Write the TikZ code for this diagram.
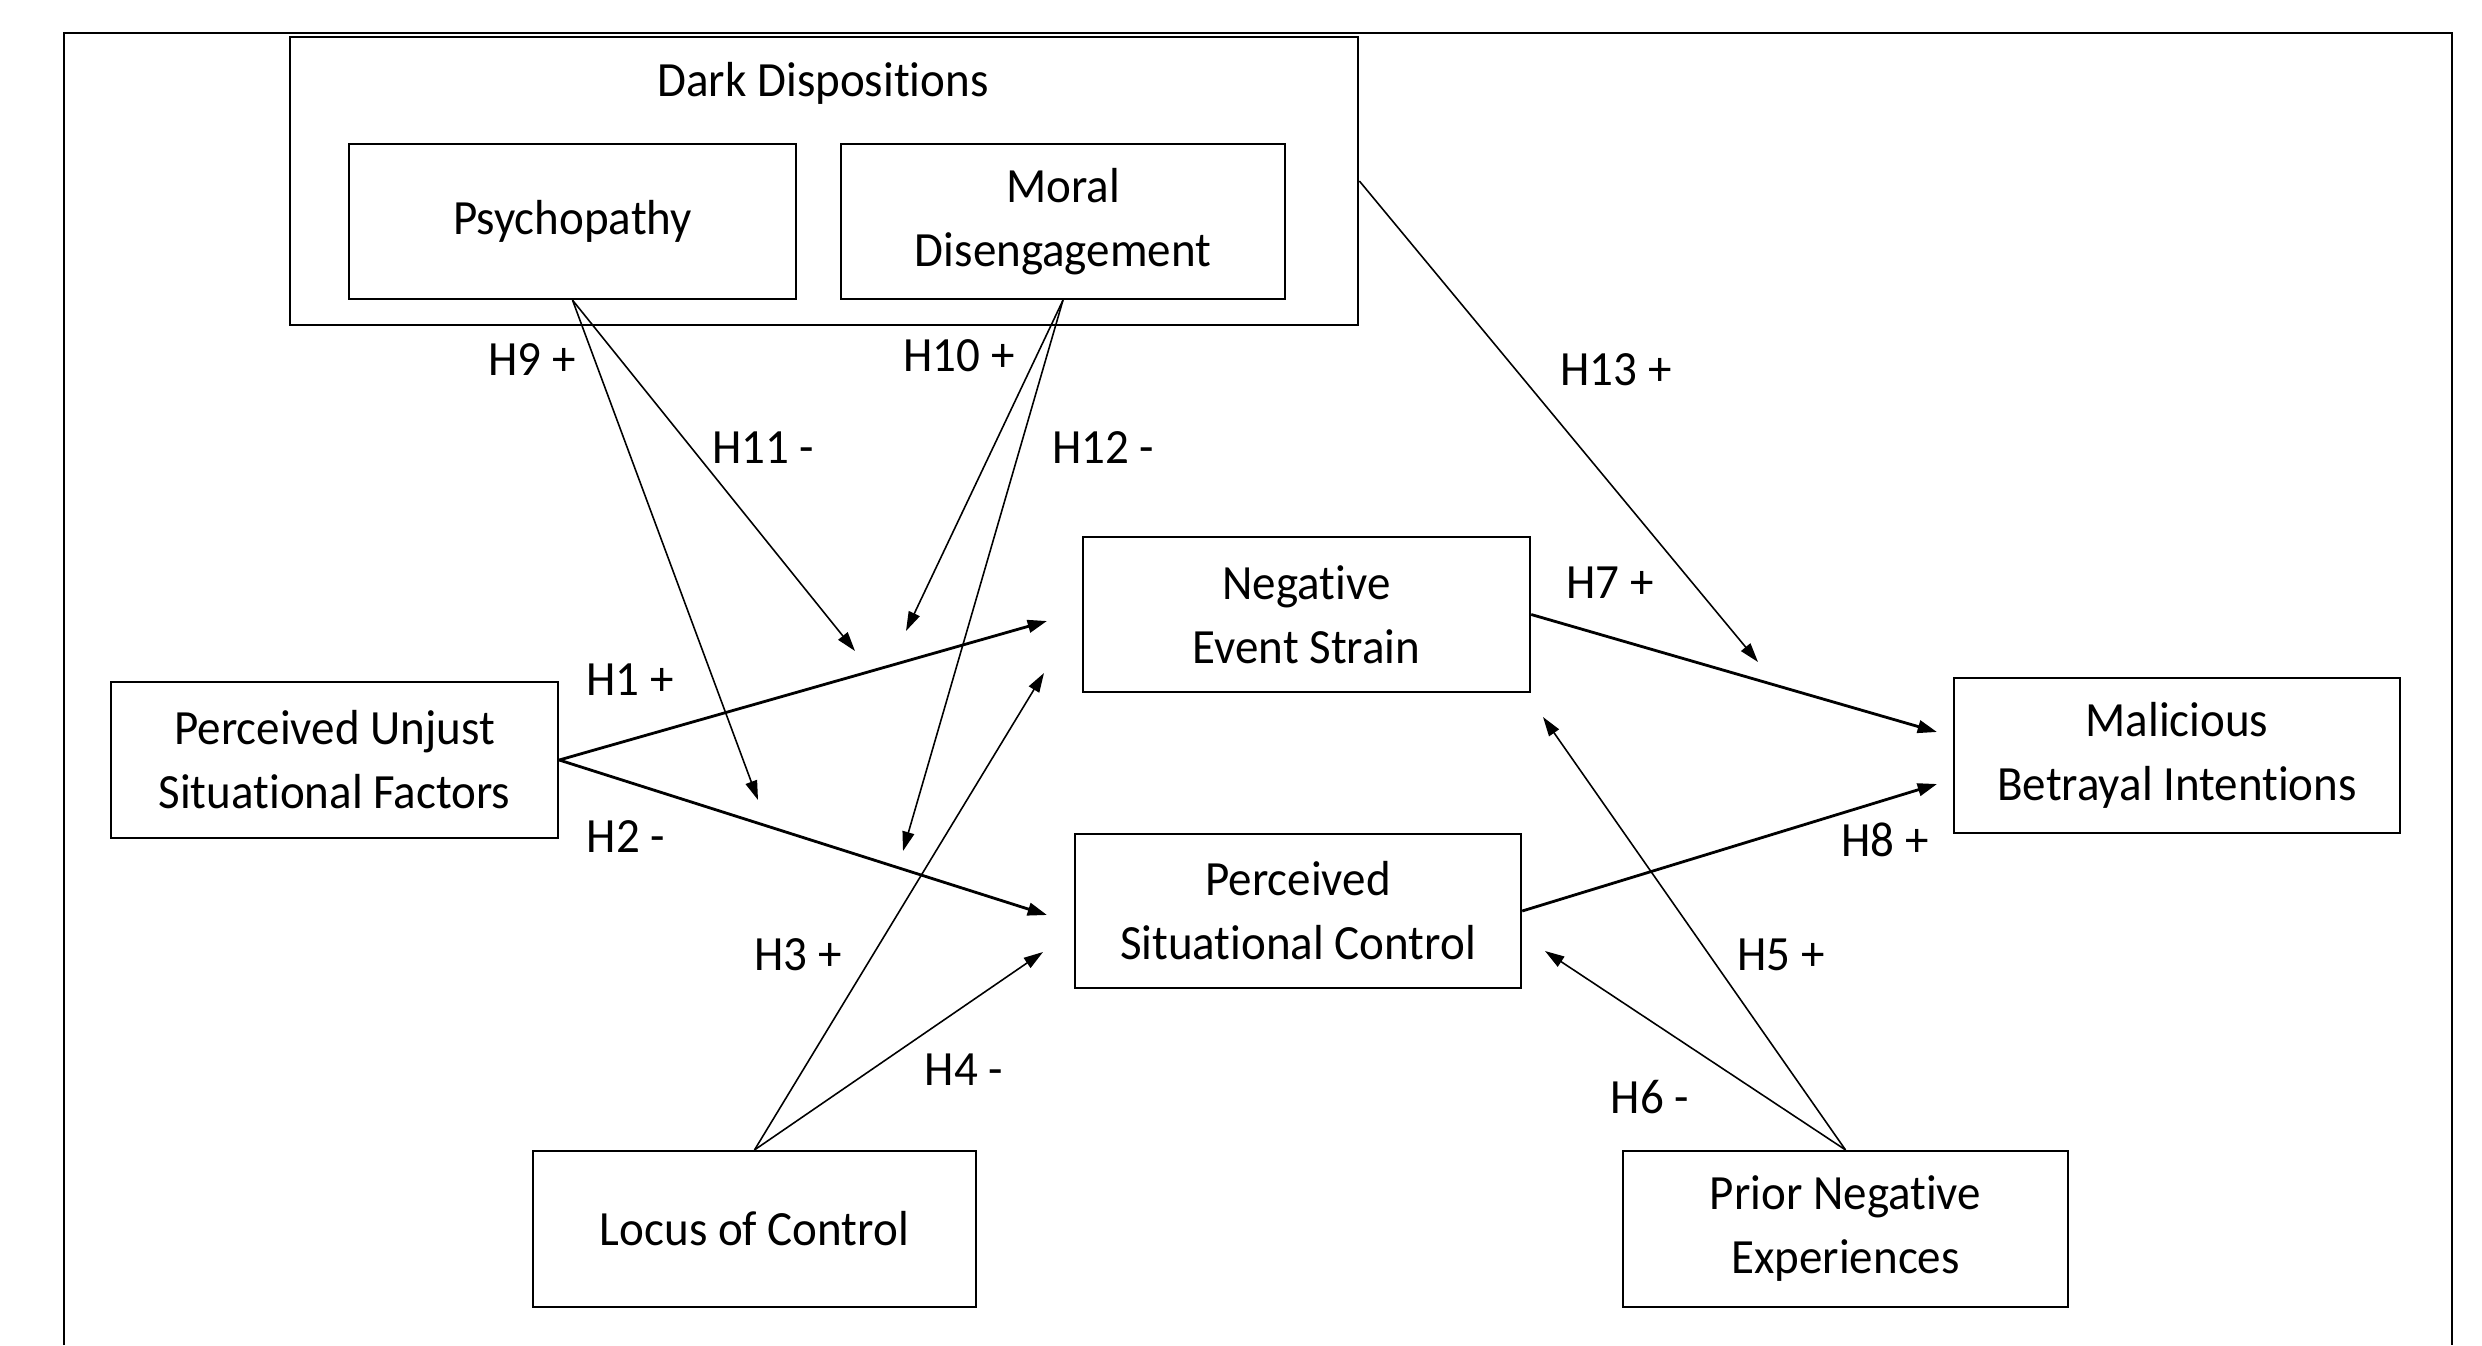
\documentclass[tikz,border=0pt]{standalone}
\usepackage{fontspec}
\setmainfont[Ligatures=NoCommon, FakeStretch=0.955]{Carlito}
\usetikzlibrary{arrows.meta}
\begin{document}
\begin{tikzpicture}[x=0.01cm, y=-0.01cm,
  every node/.style={font=\fontsize{14}{18.2}\selectfont},
  box/.style={draw, line width=0.6pt, align=center, inner sep=0pt},
  hyp/.style={inner sep=0pt},
  link/.style={line width=0.45pt, -{Triangle[length=5.5pt, width=3.4pt]}},
  mainlink/.style={line width=0.8pt, -{Triangle[length=5.5pt, width=3.6pt]}}]
\useasboundingbox (0,0) rectangle (2482,1345);

% surrounding frame (open at the bottom)
\draw[line width=0.75pt] (64,1345) -- (64,33) -- (2452,33) -- (2452,1345);

% dark dispositions group
\node[box, minimum width=10.68cm, minimum height=2.88cm] (dd) at (824,181) {};
\node[hyp] (ddtitle) at (823,83) {Dark Dispositions};
\node[box, minimum width=4.47cm, minimum height=1.55cm] (psy) at (572.5,221.5) {Psychopathy};
\node[box, minimum width=4.44cm, minimum height=1.55cm] (md) at (1063,221.5) {Moral\\Disengagement};

% constructs
\node[box, minimum width=4.47cm, minimum height=1.56cm] (pusf) at (334.5,760) {Perceived Unjust\\Situational Factors};
\node[box, minimum width=4.47cm, minimum height=1.55cm] (nes) at (1306.5,614.5) {Negative\\Event Strain};
\node[box, minimum width=4.46cm, minimum height=1.54cm] (psc) at (1298,911) {Perceived\\Situational Control};
\node[box, minimum width=4.46cm, minimum height=1.55cm] (mbi) at (2177,755.5) {Malicious\\Betrayal Intentions};
\node[box, minimum width=4.43cm, minimum height=1.56cm] (loc) at (754.5,1229) {Locus of Control};
\node[box, minimum width=4.45cm, minimum height=1.56cm] (pne) at (1845.5,1229) {Prior Negative\\Experiences};

% arrow ends
\coordinate (t1) at (1047,621);
\coordinate (t2) at (1047,915);
\coordinate (t3) at (1044,673);
\coordinate (t4) at (1043,952);
\coordinate (t5) at (1543,717);
\coordinate (t6) at (1545,951);
\coordinate (t7) at (1937,732);
\coordinate (t8) at (1937,784);
\coordinate (t9) at (758,800);
\coordinate (t10) at (906,631);
\coordinate (t11) at (855,651);
\coordinate (t12) at (903,851);
\coordinate (t13) at (1758,662);

% paths
\draw[mainlink] (pusf.east) -- (t1);
\draw[mainlink] (pusf.east) -- (t2);
\draw[link] (loc.north) -- (t3);
\draw[link] (loc.north) -- (t4);
\draw[link] (pne.north) -- (t5);
\draw[link] (pne.north) -- (t6);
\draw[mainlink] (nes.east) -- (t7);
\draw[mainlink] (psc.east) -- (t8);
\draw[link] (psy.south) -- (t9);
\draw[link] (psy.south) -- (t11);
\draw[link] (md.south) -- (t10);
\draw[link] (md.south) -- (t12);
\draw[link] (dd.east) -- (t13);

% hypothesis labels
\node[hyp] (h1) at (630,680) {H1 +};
\node[hyp] (h2) at (626,837) {H2 -};
\node[hyp] (h3) at (798,955) {H3 +};
\node[hyp] (h4) at (964,1070) {H4 -};
\node[hyp] (h5) at (1781,955) {H5 +};
\node[hyp] (h6) at (1650,1097) {H6 -};
\node[hyp] (h7) at (1610,583) {H7 +};
\node[hyp] (h8) at (1885,840) {H8 +};
\node[hyp] (h9) at (532,360) {H9 +};
\node[hyp] (h10) at (959,356) {H10 +};
\node[hyp] (h11) at (763,448) {H11 -};
\node[hyp] (h12) at (1103,448) {H12 -};
\node[hyp] (h13) at (1616,370) {H13 +};
\end{tikzpicture}
\end{document}
